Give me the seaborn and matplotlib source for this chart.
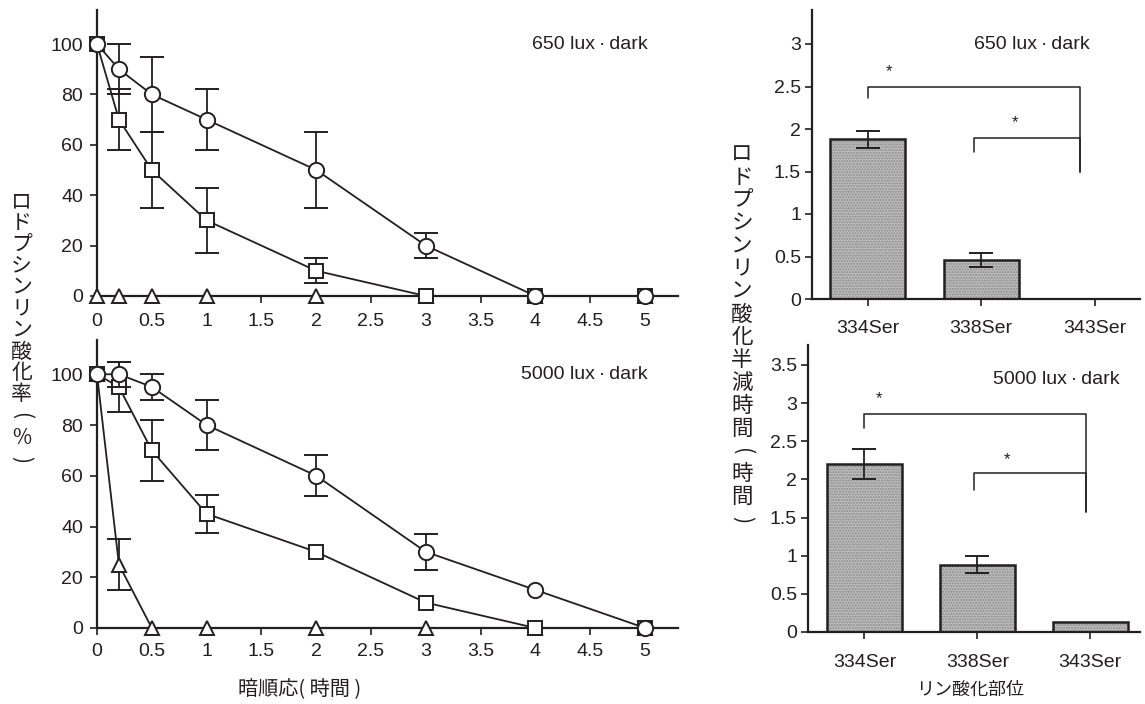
import numpy as np
import pandas as pd
import matplotlib
matplotlib.use("Agg")
import matplotlib.pyplot as plt
import seaborn as sns

sns.set_theme(style="ticks")
INK = "#231f20"
plt.rcParams["font.family"] = ["Liberation Sans", "Noto Sans CJK JP", "DejaVu Sans"]
plt.rcParams["text.color"] = INK
plt.rcParams["axes.edgecolor"] = INK
plt.rcParams["xtick.color"] = INK
plt.rcParams["ytick.color"] = INK
plt.rcParams["axes.labelcolor"] = INK

# ---- dark-adaptation time course (phosphorylation %, mean and SD) ----
hours = [0, 0.2, 0.5, 1, 2, 3, 4, 5]
hour_labels = ["0", "0.5", "1", "1.5", "2", "2.5", "3", "3.5", "4", "4.5", "5"]

lux650_ser334 = [100, 90, 80, 70, 50, 20, 0, 0]
lux650_ser334_sd = [0, 10, 15, 12, 15, 5, 0, 0]
lux650_ser338 = [100, 70, 50, 30, 10, 0, 0, 0]
lux650_ser338_sd = [0, 12, 15, 13, 5, 0, 0, 0]
lux650_ser343 = [0, 0, 0, 0, 0, 0, 0, 0]
lux650_ser343_sd = [0, 0, 0, 0, 0, 0, 0, 0]

lux5000_ser334 = [100, 100, 95, 80, 60, 30, 15, 0]
lux5000_ser334_sd = [0, 5, 5, 10, 8, 7, 0, 0]
lux5000_ser338 = [100, 95, 70, 45, 30, 10, 0, 0]
lux5000_ser338_sd = [0, 10, 12, 7.5, 0, 0, 0, 0]
lux5000_ser343 = [100, 25, 0, 0, 0, 0, 0, 0]
lux5000_ser343_sd = [0, 10, 0, 0, 0, 0, 0, 0]

# ---- dephosphorylation half-time per site (hours) ----
sites = ["334Ser", "338Ser", "343Ser"]
halftime_650 = [1.88, 0.46, 0.0]
halftime_650_sd = [0.10, 0.08, 0.0]
halftime_5000 = [2.2, 0.88, 0.13]
halftime_5000_sd = [0.20, 0.11, 0.0]

# significance brackets: (x_left, y_left_end, x_right, y_right_end, y_top)
brackets_650 = [(0, 2.36, 1.87, 1.49, 2.5), (0.94, 1.73, 1.87, 1.49, 1.89)]
stars_650 = [(0.19, 2.67), (1.3, 2.08)]
brackets_5000 = [(0, 2.67, 1.96, 1.57, 2.86), (0.97, 1.86, 1.96, 1.57, 2.08)]
stars_5000 = [(0.13, 3.06), (1.26, 2.26)]

fig = plt.figure(figsize=(11.45, 7.04), dpi=100)
W, H = 1145, 704
TICK_FS = 14
LABEL_FS = 14


def axes_px(left, right, top, bottom):
    return fig.add_axes([left / W, (H - bottom) / H, (right - left) / W, (bottom - top) / H])


ax_tl = axes_px(97, 678, 10, 296)
ax_bl = axes_px(97, 678, 340, 628)
ax_tr = axes_px(812, 1140, 10, 299)
ax_br = axes_px(808, 1140, 345, 632)

marker_style = dict(markerfacecolor="white", markeredgecolor=INK, markeredgewidth=1.4,
                    color=INK, linewidth=1.3, clip_on=False)
err_style = dict(fmt="none", ecolor=INK, elinewidth=1.3, capsize=8.5, capthick=1.4)


def time_course(ax, series, label):
    # series drawn bottom to top: triangles, squares, circles
    for z, (vals, sd, mk, ms) in enumerate(series):
        sd = np.asarray(sd, dtype=float)
        mask = sd > 0
        ax.errorbar(np.asarray(hours)[mask], np.asarray(vals)[mask], yerr=sd[mask],
                    zorder=2 + 2 * z, clip_on=False, **err_style)
        sns.lineplot(x=hours, y=vals, marker=mk, markersize=ms, ax=ax,
                     zorder=3 + 2 * z, **marker_style)
    ax.set_xlim(0, 5.3)
    ax.set_ylim(0, 113.5)
    ax.set_xticks(np.arange(0, 5.01, 0.5))
    ax.set_xticklabels(hour_labels)
    ax.set_yticks([0, 20, 40, 60, 80, 100])
    ax.text(0.948, 0.864, label, transform=ax.transAxes, ha="right", va="baseline",
            fontsize=LABEL_FS)


time_course(ax_tl, [(lux650_ser343, lux650_ser343_sd, "^", 10),
                    (lux650_ser338, lux650_ser338_sd, "s", 10),
                    (lux650_ser334, lux650_ser334_sd, "o", 11)], "650 lux\u2009·\u2009dark")
time_course(ax_bl, [(lux5000_ser343, lux5000_ser343_sd, "^", 10),
                    (lux5000_ser338, lux5000_ser338_sd, "s", 10),
                    (lux5000_ser334, lux5000_ser334_sd, "o", 11)], "5000 lux\u2009·\u2009dark")


def halftime_bars(ax, vals, sd, brackets, stars, label, ymax, yticks, text_x):
    df = pd.DataFrame({"site": sites, "t": vals})
    sns.barplot(data=df, x="site", y="t", ax=ax, color="#bdbdbd", width=0.66,
                saturation=1, errorbar=None, linewidth=0)
    for p in ax.patches:
        p.set_hatch("......")
        p.set_edgecolor("#8a8a8a")
        p.set_linewidth(0)
    sns.barplot(data=df, x="site", y="t", ax=ax, fill=False, color=INK, width=0.66,
                errorbar=None, linewidth=1.8)
    xs = np.arange(len(sites))
    sd = np.asarray(sd)
    m = sd > 0
    ax.errorbar(xs[m], np.asarray(vals)[m], yerr=sd[m], zorder=5, **err_style)
    for x0, y0, x1, y1, yt in brackets:
        ax.plot([x0, x0, x1, x1], [y0, yt, yt, y1], color=INK, lw=1.1, zorder=5)
    for sx, sy in stars:
        ax.text(sx, sy, "*", ha="center", va="center", fontsize=12)
    ax.set_ylim(0, ymax)
    ax.set_yticks(yticks)
    ax.set_yticklabels([f"{v:g}" for v in yticks])
    ax.set_xlabel("")
    ax.set_ylabel("")
    ax.text(text_x, 0.864, label, transform=ax.transAxes, ha="right", va="baseline",
            fontsize=LABEL_FS)


halftime_bars(ax_tr, halftime_650, halftime_650_sd, brackets_650, stars_650,
              "650 lux\u2009·\u2009dark", 3.4, [0, 0.5, 1, 1.5, 2, 2.5, 3], 0.848)
ax_tr.set_xlim(-0.49, 2.4)
halftime_bars(ax_br, halftime_5000, halftime_5000_sd, brackets_5000, stars_5000,
              "5000 lux\u2009·\u2009dark", 3.76, [0, 0.5, 1, 1.5, 2, 2.5, 3, 3.5], 0.94)
ax_br.set_xlim(-0.5, 2.44)

for ax in (ax_tl, ax_bl, ax_tr, ax_br):
    sns.despine(ax=ax)
    for s in ("left", "bottom"):
        ax.spines[s].set_linewidth(1.6)
    ax.tick_params(length=5, width=1.2, labelsize=TICK_FS)
    ax.set_xlabel("")
    ax.set_ylabel("")
ax_tl.tick_params(axis="x", pad=7)
ax_bl.tick_params(axis="x", pad=6)
ax_tr.tick_params(axis="x", pad=10)
ax_br.tick_params(axis="x", pad=10.5)
ax_tl.tick_params(axis="y", pad=5)
ax_bl.tick_params(axis="y", pad=5)
ax_tr.tick_params(axis="y", pad=3)
ax_br.tick_params(axis="y", pad=3)

# vertical (tategaki) axis titles, one glyph per cell
cjk = ["Noto Sans CJK JP", "DejaVu Sans"]


def vertical_title(text, x_px, y_first_px, pitch_px, size):
    for i, ch in enumerate(text):
        rot = -90 if ch in "()" else 0
        fig.text(x_px / W, (H - (y_first_px + i * pitch_px)) / H, ch,
                 ha="center", va="center", rotation=rot, rotation_mode="anchor",
                 fontsize=size, family=cjk)


vertical_title("ロドプシンリン酸化率(%)", 21.5, 201, 21.5, 15)
vertical_title("ロドプシンリン酸化半減時間(時間)", 742, 155, 22.8, 15.5)

fig.text(300 / W, (H - 690) / H, "暗順応( 時間 )", ha="center", va="center",
         fontsize=14.5, family=cjk)
fig.text(970 / W, (H - 690) / H, "リン酸化部位", ha="center", va="center",
         fontsize=13, family=cjk)

fig.savefig("out.png", dpi=100)
